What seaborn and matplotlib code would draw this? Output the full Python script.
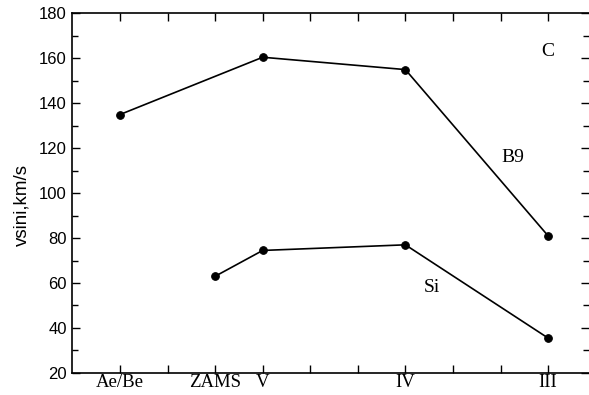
import matplotlib
matplotlib.use("Agg")
import matplotlib.pyplot as plt
from matplotlib.ticker import MultipleLocator
import seaborn as sns
import pandas as pd

# luminosity classes and their slot on the x axis
classes = ["Ae/Be", "ZAMS", "V", "IV", "III"]
class_pos = [1, 3, 4, 7, 10]

# mean vsini per class (km/s)
b9_classes = ["Ae/Be", "V", "IV", "III"]
b9_vsini = [135, 160.5, 155, 81]
si_classes = ["ZAMS", "V", "IV", "III"]
si_vsini = [63, 74.5, 77, 35.5]

pos = dict(zip(classes, class_pos))
df = pd.concat([
    pd.DataFrame({"cls": b9_classes, "vsini": b9_vsini, "group": "B9"}),
    pd.DataFrame({"cls": si_classes, "vsini": si_vsini, "group": "Si"}),
])
df["x"] = df["cls"].map(pos)

sns.set_style("ticks")
plt.rcParams["text.color"] = "black"
plt.rcParams["axes.labelcolor"] = "black"
serif = "Liberation Serif"
sans = "Liberation Sans"

fig, ax = plt.subplots(figsize=(5.89, 3.95), dpi=100)
fig.subplots_adjust(left=0.123, right=1.0, bottom=0.056, top=0.966)

sns.lineplot(data=df, x="x", y="vsini", units="group", estimator=None,
             color="black", lw=1.2, marker="o", markersize=5.5,
             markeredgecolor="black", ax=ax, legend=False)

# the scanned frame is cut off on the right: only the inner ticks show
ax.set_xlim(0, 10.86)
ax.set_ylim(20, 180)
ax.set_xticks(range(1, 11))
ax.set_xticklabels([next((c for c, p in pos.items() if p == t), "")
                    for t in range(1, 11)], family=serif, fontsize=13.5)
ax.yaxis.set_major_locator(MultipleLocator(20))
ax.yaxis.set_minor_locator(MultipleLocator(10))
for lab in ax.get_yticklabels():
    lab.set_family(sans)
    lab.set_fontsize(12)

ax.tick_params(which="both", direction="in", top=True, right=True,
               color="black", labelcolor="black")
ax.tick_params(which="major", length=6, width=1)
ax.tick_params(which="minor", length=4, width=1)
ax.tick_params(axis="x", pad=1)
ax.tick_params(axis="y", pad=4)

for sp in ax.spines.values():
    sp.set_linewidth(1.2)
    sp.set_color("black")
ax.spines["right"].set_visible(False)

ax.set_xlabel("")
ax.set_ylabel("vsini,km/s", family=sans, fontsize=13.5)
ax.yaxis.set_label_coords(-0.081, 0.468)

ax.text(10, 163, "C", family=serif, fontsize=14, ha="center", va="center")
ax.text(9.25, 116, "B9", family=serif, fontsize=14, ha="center", va="center")
ax.text(7.55, 58, "Si", family=serif, fontsize=14, ha="center", va="center")

fig.savefig("out.png", dpi=100)
